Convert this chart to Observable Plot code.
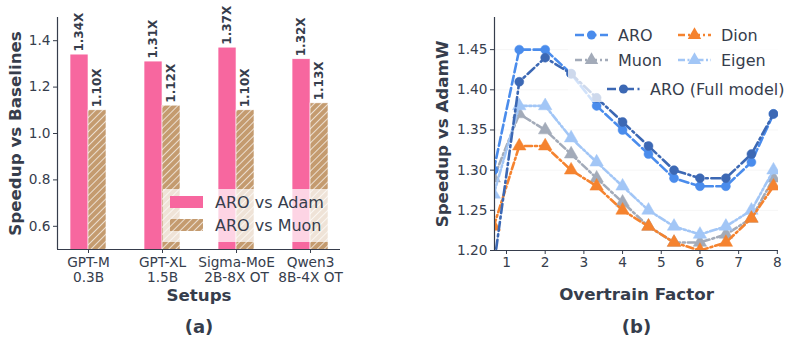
<!DOCTYPE html>
<html><head><meta charset="utf-8">
<script src="https://cdn.jsdelivr.net/npm/d3@7"></script>
<script src="https://cdn.jsdelivr.net/npm/@observablehq/plot@0.6"></script>
<style>
html,body{margin:0;padding:0;background:#fff;}
#wrap{position:relative;width:798px;height:348px;overflow:hidden;font-family:"DejaVu Sans",sans-serif;}
#pa{position:absolute;left:0;top:0;}
#pb{position:absolute;left:400px;top:0;}
#overlay{position:absolute;left:0;top:0;pointer-events:none;}
</style></head>
<body>
<svg width="0" height="0" style="position:absolute">
  <defs>
    <pattern id="hatch" patternUnits="userSpaceOnUse" width="5" height="5" patternTransform="rotate(45)">
      <rect width="5" height="5" fill="#c49b6f"></rect>
      <line x1="0" y1="0" x2="0" y2="5" stroke="#fff" stroke-width="1.6" stroke-opacity="0.85"></line>
    </pattern>
  </defs>
</svg>
<div id="wrap"><div id="pa"></div><div id="pb"></div><svg id="overlay" width="798" height="348"></svg></div>
<script>
// ---------- data: panel (a) ----------
const setups = ["GPT-M\n0.3B", "GPT-XL\n1.5B", "Sigma-MoE\n2B-8X OT", "Qwen3\n8B-4X OT"];
const aroVsAdam = [1.34, 1.31, 1.37, 1.32];
const aroVsMuon = [1.10, 1.12, 1.10, 1.13];
const yTicksA = [0.6, 0.8, 1.0, 1.2, 1.4];

// ---------- data: panel (b) ----------
const overtrain = [0.67, 1.33, 2, 2.67, 3.33, 4, 4.67, 5.33, 6, 6.67, 7.33, 7.9];
const aro      = [1.30, 1.45, 1.45, 1.42, 1.38, 1.35, 1.32, 1.29, 1.28, 1.28, 1.31, 1.37];
const aroFull  = [1.18, 1.41, 1.44, 1.42, 1.39, 1.36, 1.33, 1.30, 1.29, 1.29, 1.32, 1.37];
const muon     = [1.29, 1.37, 1.35, 1.32, 1.29, 1.26, 1.23, 1.21, 1.21, 1.22, 1.24, 1.29];
const eigen    = [1.27, 1.38, 1.38, 1.34, 1.31, 1.28, 1.25, 1.23, 1.22, 1.23, 1.25, 1.30];
const dion     = [1.23, 1.33, 1.33, 1.30, 1.28, 1.25, 1.23, 1.21, 1.20, 1.21, 1.24, 1.28];
const xTicksB = [1, 2, 3, 4, 5, 6, 7, 8];
const yTicksB = [1.20, 1.25, 1.30, 1.35, 1.40, 1.45];

const TXT = "#363d4c";
const PINK = "#f7679f";
const font = "DejaVu Sans";
const TICK_FS = 13.7, LABEL_FS = 16.7, TAG_FS = 18;

// ---------- panel (a) ----------
const half = 0.243;
const barsA = setups.map((s, i) => ({i, v: aroVsAdam[i]}));
const barsM = setups.map((s, i) => ({i, v: aroVsMuon[i]}));

const pa = Plot.plot({
  width: 400, height: 348,
  marginLeft: 57, marginRight: 60, marginTop: 17, marginBottom: 99,
  style: {fontFamily: font, fontSize: "13.7px", color: TXT, background: "transparent", overflow: "visible"},
  x: {type: "linear", domain: [-0.419, 3.405]},
  y: {domain: [0.5, 1.5]},
  marks: [
    Plot.rectY(barsA, {x1: d => d.i - half, x2: d => d.i, y1: 0, y2: "v", fill: PINK, stroke: "white", strokeWidth: 0.6, clip: true}),
    Plot.rectY(barsM, {x1: d => d.i, x2: d => d.i + half, y1: 0, y2: "v", fill: "url(#hatch)", stroke: "white", strokeWidth: 0.6, clip: true}),
    Plot.text(barsA, {x: d => d.i - half / 2, y: "v", text: d => d.v.toFixed(2) + "X", rotate: -90, textAnchor: "start", lineAnchor: "middle", dy: -3, fontWeight: "bold", fontSize: 12, fill: TXT}),
    Plot.text(barsM, {x: d => d.i + half / 2, y: "v", text: d => d.v.toFixed(2) + "X", rotate: -90, textAnchor: "start", lineAnchor: "middle", dy: -3, fontWeight: "bold", fontSize: 12, fill: TXT}),
    Plot.ruleX([-0.419], {stroke: TXT, strokeWidth: 1.2}),
    Plot.ruleY([0.5], {stroke: TXT, strokeWidth: 1.2}),
    Plot.axisY({ticks: yTicksA, tickFormat: d => d.toFixed(1), tickSize: 4, tickPadding: 3, label: null, fontSize: TICK_FS, stroke: TXT, fill: TXT}),
    Plot.axisX({ticks: [0, 1, 2, 3], tickFormat: i => setups[i], tickSize: 4, tickPadding: 2, label: null, fontSize: TICK_FS, lineHeight: 1.15, stroke: TXT, fill: TXT}),
    Plot.text(["Speedup vs Baselines"], {frameAnchor: "left", textAnchor: "middle", rotate: -90, dx: -42, fontWeight: "bold", fontSize: LABEL_FS, fill: TXT}),
    Plot.text(["Setups"], {frameAnchor: "bottom", dy: 51, fontWeight: "bold", fontSize: LABEL_FS, fill: TXT}),
    Plot.text(["(a)"], {frameAnchor: "bottom", dy: 83, fontWeight: "bold", fontSize: TAG_FS, fill: TXT})
  ]
});
document.getElementById("pa").appendChild(pa);

// ---------- panel (b) ----------
const series = [
  {name: "ARO", vals: aro, color: "#4a8cec", dash: "9,3.5", symbol: "circle", r: 4.5},
  {name: "Dion", vals: dion, color: "#f5832f", dash: "7,3,2,3", symbol: "triangle", r: 5},
  {name: "Muon", vals: muon, color: "#a3abb9", dash: "7,3,2,3", symbol: "triangle", r: 5},
  {name: "Eigen", vals: eigen, color: "#a2c6f6", dash: "7,2.5,2,2.5,2,2.5", symbol: "triangle", r: 5},
  {name: "ARO (Full model)", vals: aroFull, color: "#3c68b4", dash: "9,3.5,2,3.5", symbol: "circle", r: 4.5}
];
const drawOrder = [series[2], series[3], series[1], series[0], series[4]];
const marksB = [
  Plot.gridY({ticks: yTicksB, stroke: "#000", strokeOpacity: 0.04})
];
for (const s of drawOrder) {
  const pts = overtrain.map((x, i) => ({x, y: s.vals[i]}));
  marksB.push(Plot.line(pts, {x: "x", y: "y", stroke: s.color, strokeWidth: 2.6, strokeDasharray: s.dash, clip: true}));
  marksB.push(Plot.dot(pts, {x: "x", y: "y", fill: s.color, stroke: s.color, strokeWidth: 0.5, symbol: s.symbol, r: s.r, clip: true}));
}
marksB.push(
  Plot.ruleX([0.69], {stroke: TXT, strokeWidth: 1.2}),
  Plot.ruleY([1.20], {stroke: TXT, strokeWidth: 1.2}),
  Plot.axisY({ticks: yTicksB, tickFormat: d => d.toFixed(2), tickSize: 4, tickPadding: 3, label: null, fontSize: TICK_FS, stroke: TXT, fill: TXT}),
  Plot.axisX({ticks: xTicksB, tickFormat: d => String(d), tickSize: 4, tickPadding: 3, label: null, fontSize: TICK_FS, stroke: TXT, fill: TXT}),
  Plot.text(["Speedup vs AdamW"], {frameAnchor: "left", textAnchor: "middle", rotate: -90, dx: -52, fontWeight: "bold", fontSize: LABEL_FS, fill: TXT}),
  Plot.text(["Overtrain Factor"], {frameAnchor: "bottom", dy: 49, fontWeight: "bold", fontSize: LABEL_FS, fill: TXT}),
  Plot.text(["(b)"], {frameAnchor: "bottom", dy: 82, fontWeight: "bold", fontSize: TAG_FS, fill: TXT})
);
const pb = Plot.plot({
  width: 398, height: 348,
  marginLeft: 94, marginRight: 20, marginTop: 17, marginBottom: 98,
  style: {fontFamily: font, fontSize: "13.7px", color: TXT, background: "transparent", overflow: "visible"},
  x: {domain: [0.69, 8.03]},
  y: {domain: [1.20, 1.49]},
  marks: marksB
});
document.getElementById("pb").appendChild(pb);

// force tick-label font size (inherits otherwise)
for (const svg of [pa, pb]) {
  d3.select(svg).selectAll('g[aria-label$="tick label"]').attr("font-size", TICK_FS).style("font-size", TICK_FS + "px");
  d3.select(svg).selectAll('g[aria-label$="tick label"] text').attr("font-size", TICK_FS).style("font-size", TICK_FS + "px");
}

// ---------- legends (overlay) ----------
const ov = d3.select("#overlay");
// legend (a)
ov.append("rect").attr("x", 163).attr("y", 189).attr("width", 166).attr("height", 53).attr("fill", "white").attr("fill-opacity", 0.72);
const legA = [{label: "ARO vs Adam", fill: PINK, y: 202}, {label: "ARO vs Muon", fill: "url(#hatch)", y: 225}];
for (const l of legA) {
  ov.append("rect").attr("x", 170).attr("y", l.y - 6).attr("width", 33).attr("height", 12).attr("fill", l.fill);
  ov.append("text").attr("x", 215).attr("y", l.y).attr("dy", "0.35em").attr("font-family", font).attr("font-size", 16).attr("fill", TXT).text(l.label);
}
// legend (b)
ov.append("rect").attr("x", 568).attr("y", 22).attr("width", 226).attr("height", 80).attr("fill", "white").attr("fill-opacity", 0.75);
const legB = [
  {s: series[0], x: 575, y: 35},
  {s: series[1], x: 678, y: 35},
  {s: series[2], x: 575, y: 60},
  {s: series[3], x: 678, y: 60},
  {s: series[4], x: 607, y: 89}
];
for (const l of legB) {
  const s = l.s;
  ov.append("line").attr("x1", l.x).attr("x2", l.x + 33).attr("y1", l.y).attr("y2", l.y)
    .attr("stroke", s.color).attr("stroke-width", 2.6).attr("stroke-dasharray", s.dash);
  const type = s.symbol === "circle" ? d3.symbolCircle : d3.symbolTriangle;
  ov.append("path").attr("d", d3.symbol(type, Math.PI * s.r * s.r)()).attr("transform", `translate(${l.x + 16.5},${l.y})`).attr("fill", s.color);
  ov.append("text").attr("x", l.x + 43).attr("y", l.y).attr("dy", "0.35em").attr("font-family", font).attr("font-size", 16).attr("fill", TXT).text(s.name);
}
</script>
</body></html>
